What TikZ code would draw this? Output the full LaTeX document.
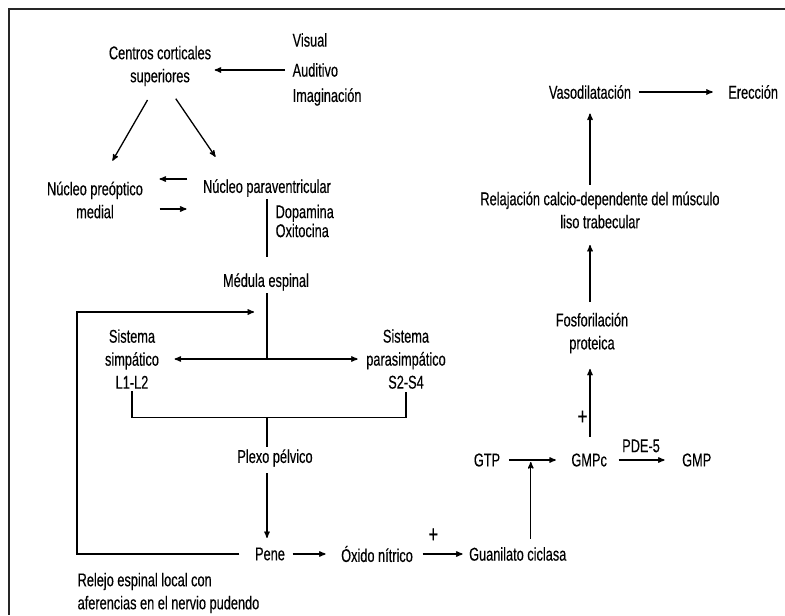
\documentclass[tikz,border=0pt]{standalone}
\usepackage{fontspec}
\setmainfont[FakeStretch=0.69,FakeBold=0.3]{Liberation Sans}
\usetikzlibrary{arrows,positioning}

\begin{document}
\begin{tikzpicture}[x=1pt,y=-1pt,>=stealth',shorten >=1pt,auto,node distance=51pt,
    line width=1.3pt,
    every node/.style={font=\fontsize{18.5}{23}\selectfont,inner sep=2pt}]

    \useasboundingbox (0,0) rectangle (785,616);
    \draw[line width=1.4pt,black!85] (785,9) -- (9,9) -- (9,616);

    \coordinate (spine) at (267,0);
    \coordinate (rcol) at (590,0);
    \coordinate (ref) at (77,312);

    \node[align=center] (cort) at (160,66) {Centros corticales\\superiores};
    \node[anchor=west] (vis) at (290,40) {Visual};
    \node[anchor=west] (aud) at (290,70) {Auditivo};
    \node[anchor=west] (ima) at (290,97) {Imaginación};

    \node[align=center] (npo) at (95,200) {Núcleo preóptico\\medial};
    \node (npv) at (267,188) {Núcleo paraventricular};
    \node[anchor=west,align=left] (dop) at (273,221) {Dopamina\\[-4pt]Oxitocina};
    \node (med) at (266,282) {Médula espinal};

    \node[align=center] (sim) at (132,359) {Sistema\\simpático\\L1-L2};
    \node[align=center] (par) at (406,359) {Sistema\\parasimpático\\S2-S4};
    \node (plx) at (275,458) {Plexo pélvico};

    \node (pene) at (270,554) {Pene};
    \node (oxi) [right=of pene] {Óxido nítrico};
    \node (gua) [right=of oxi] {Guanilato ciclasa};
    \node[anchor=west,align=left] (rlj) at (75,593) {Relejo espinal local con\\aferencias en el nervio pudendo};

    \node (gtp) at (487,460) {GTP};
    \node (gmpc) [right=66pt of gtp] {GMPc};
    \node (gmp) [right=70pt of gmpc] {GMP};
    \node[align=center] (fos) at (592,333) {Fosforilación\\proteica};
    \node[align=center] (rel) at (600,210) {Relajación calcio-dependente del músculo\\liso trabecular};
    \node (vaso) at (590,92) {Vasodilatación};
    \node (ere) [right=92pt of vaso] {Erección};

    \path[->] (aud.west) edge [shorten <=5pt] (aud.west -| cort.east)
              ([xshift=-6pt]cort.south) edge [shorten <=13pt,shorten >=21pt] ([xshift=7pt]npo.north)
              ([xshift=9pt]cort.south) edge [shorten <=12pt,shorten >=24pt] ([xshift=-38pt]npv.north)
              ([yshift=9pt]npv.west) edge [shorten <=13pt,shorten >=14pt] ([yshift=9pt]npv.west -| npo.east)
              ([yshift=-9pt]npo.east) edge [shorten <=14pt,shorten >=14pt] ([yshift=-9pt]npo.east -| npv.west);

    \draw[shorten >=14pt] (spine |- npv.south) -- (spine |- med.north);
    \draw (spine |- med.south) -- (spine |- sim.east);
    \draw[<->,shorten <=13pt,shorten >=6pt] (sim.east) -- (par.west);
    \draw (sim.south) -- ++(0,26) -| (par.south);
    \draw (spine |- plx.north) -- ++(0,-30);
    \draw[->,shorten <=4pt,shorten >=7pt] (spine |- plx.south) -- (spine |- pene.north);
    \draw[->] ([xshift=-13pt]pene.west) -| (ref) -- ++(178,0);

    \path[->] (pene) edge [shorten <=5pt,shorten >=13pt] (oxi)
              (oxi) edge [shorten <=7pt,shorten >=4pt] node [above=9pt,pos=0.35,font=\fontsize{24}{24}\selectfont] {+} (gua)
              (gtp) edge [shorten <=6pt,shorten >=13pt] (gmpc)
              (gmpc) edge [shorten <=9pt,shorten >=15pt] node [above=5pt,pos=0.45] {PDE-5} (gmp)
              (vaso) edge [shorten <=5pt,shorten >=13pt] (ere);

    \path[->] ([xshift=13pt]gua.north) edge [shorten <=6pt,shorten >=2pt] ([xshift=13pt]gua.north |- gtp)
              (rcol |- gmpc.north) edge [shorten <=14pt,shorten >=13pt] node [left,pos=0.35,font=\fontsize{24}{24}\selectfont] {+} (rcol |- fos.south)
              (rcol |- fos.north) edge [shorten <=8pt,shorten >=14pt] (rcol |- rel.south)
              (rcol |- rel.north) edge [shorten <=4pt,shorten >=12pt] (rcol |- vaso.south);

\end{tikzpicture}
\end{document}
